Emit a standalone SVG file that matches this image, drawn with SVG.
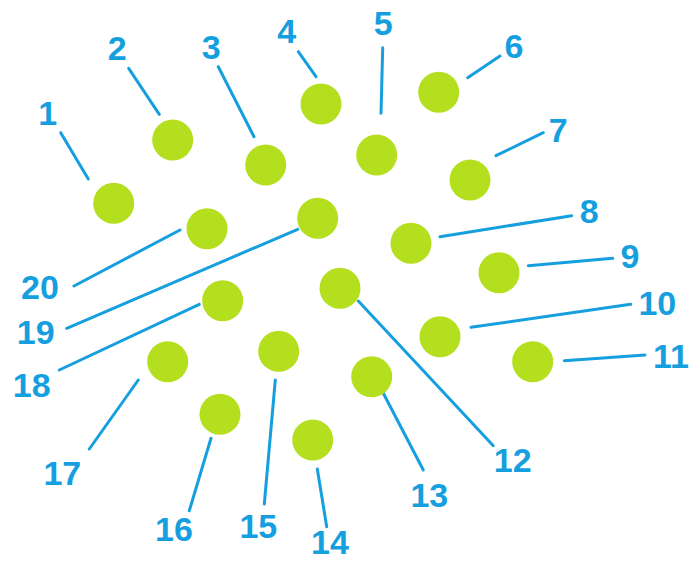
<svg xmlns="http://www.w3.org/2000/svg" width="691" height="561" viewBox="0 0 691 561">
<style>
.n{fill:#B4DF1E}
.l{stroke:#169FDF;stroke-width:3;stroke-linecap:round;fill:none}
.t{fill:#169FDF;font-family:"Liberation Sans",Arial,sans-serif;font-weight:bold;font-size:34px;text-anchor:middle}
</style>
<rect width="691" height="561" fill="#fff"/>
<g id="connectors">
<line class="l" x1="60.7" y1="132.7" x2="88.3" y2="179"/>
<line class="l" x1="128.7" y1="68.3" x2="159.3" y2="114.3"/>
<line class="l" x1="218.3" y1="66.7" x2="254" y2="136.7"/>
<line class="l" x1="298.3" y1="51.7" x2="316" y2="76.7"/>
<line class="l" x1="382.7" y1="47.7" x2="381" y2="113.3"/>
<line class="l" x1="467.7" y1="77.7" x2="500" y2="56"/>
<line class="l" x1="496" y1="155.7" x2="543.3" y2="132.7"/>
<line class="l" x1="440" y1="236.7" x2="571.7" y2="215.7"/>
<line class="l" x1="528.3" y1="265.7" x2="612.7" y2="258.3"/>
<line class="l" x1="471" y1="327.3" x2="630.7" y2="304.3"/>
<line class="l" x1="564.3" y1="360.7" x2="645" y2="355"/>
<line class="l" x1="358.3" y1="301" x2="493.3" y2="445.7"/>
<line class="l" x1="383.3" y1="393.3" x2="423.3" y2="470"/>
<line class="l" x1="317.3" y1="469" x2="326.7" y2="526.7"/>
<line class="l" x1="275.3" y1="380" x2="264.3" y2="504"/>
<line class="l" x1="211" y1="438.3" x2="189.3" y2="510.7"/>
<line class="l" x1="138.3" y1="380" x2="89.3" y2="449"/>
<line class="l" x1="199.3" y1="304.3" x2="59.3" y2="370"/>
<line class="l" x1="297.7" y1="229.3" x2="66.7" y2="328.3"/>
<line class="l" x1="180" y1="230" x2="74" y2="286"/>
</g>
<g id="node1"><circle class="n" cx="113.7" cy="203.3" r="20.5"/><text class="t" x="47.7" y="125">1</text></g>
<g id="node2"><circle class="n" cx="172.7" cy="140" r="20.5"/><text class="t" x="117.3" y="60">2</text></g>
<g id="node3"><circle class="n" cx="265.7" cy="165" r="20.5"/><text class="t" x="211.3" y="59.3">3</text></g>
<g id="node4"><circle class="n" cx="321" cy="104" r="20.5"/><text class="t" x="286.7" y="43.3">4</text></g>
<g id="node5"><circle class="n" cx="376.7" cy="155" r="20.5"/><text class="t" x="383.3" y="35">5</text></g>
<g id="node6"><circle class="n" cx="438.7" cy="92.3" r="20.5"/><text class="t" x="514" y="58.3">6</text></g>
<g id="node7"><circle class="n" cx="470" cy="180" r="20.5"/><text class="t" x="558.3" y="141.7">7</text></g>
<g id="node8"><circle class="n" cx="411" cy="243.3" r="20.5"/><text class="t" x="589.3" y="222.7">8</text></g>
<g id="node9"><circle class="n" cx="499" cy="272.7" r="20.5"/><text class="t" x="630" y="268.3">9</text></g>
<g id="node10"><circle class="n" cx="440" cy="336.7" r="20.5"/><text class="t" x="657.3" y="315">10</text></g>
<g id="node11"><circle class="n" cx="532.7" cy="361.7" r="20.5"/><text class="t" x="671" y="368.3">11</text></g>
<g id="node12"><circle class="n" cx="340" cy="288.3" r="20.5"/><text class="t" x="512.7" y="472.3">12</text></g>
<g id="node13"><circle class="n" cx="371.7" cy="376.7" r="20.5"/><text class="t" x="429.3" y="507.3">13</text></g>
<g id="node14"><circle class="n" cx="312.7" cy="440" r="20.5"/><text class="t" x="330" y="553.5">14</text></g>
<g id="node15"><circle class="n" cx="278.7" cy="351.3" r="20.5"/><text class="t" x="258.3" y="538.3">15</text></g>
<g id="node16"><circle class="n" cx="220" cy="414.3" r="20.5"/><text class="t" x="174" y="540.7">16</text></g>
<g id="node17"><circle class="n" cx="167.7" cy="361.7" r="20.5"/><text class="t" x="62.3" y="485">17</text></g>
<g id="node18"><circle class="n" cx="222.7" cy="300.7" r="20.5"/><text class="t" x="31.7" y="396.7">18</text></g>
<g id="node19"><circle class="n" cx="317.7" cy="218.3" r="20.5"/><text class="t" x="35.7" y="344">19</text></g>
<g id="node20"><circle class="n" cx="207" cy="228.7" r="20.5"/><text class="t" x="40" y="299.3">20</text></g>
</svg>
